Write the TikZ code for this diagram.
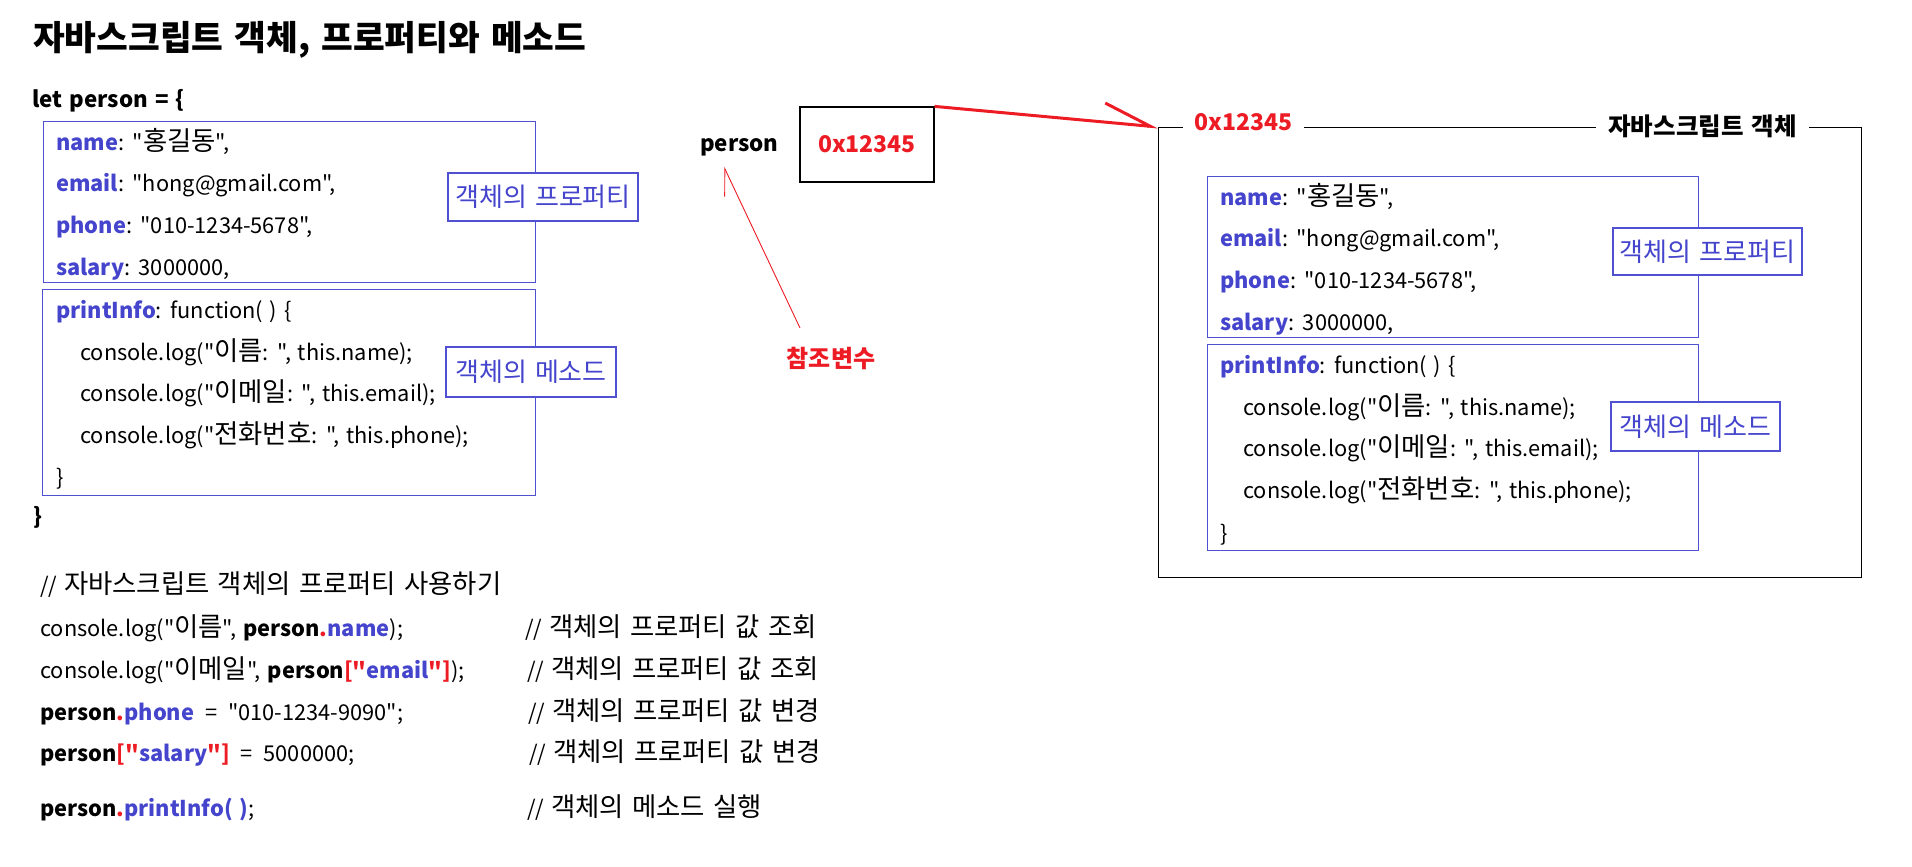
\documentclass[tikz,border=0pt]{standalone}
\usepackage{xcolor}
\usepackage{fontspec}
\setmainfont{Noto Sans CJK KR}[Ligatures=TeXOff, WordSpace=1.4]
\newfontfamily\kofont{Noto Sans CJK KR}[Scale=1.21, Ligatures=TeXOff, WordSpace=1.4]
\usepackage{tikz}
\usetikzlibrary{positioning,arrows.meta}

\definecolor{keyblue}{RGB}{68,68,204}
\definecolor{boxblue}{RGB}{80,80,210}
\definecolor{refred}{RGB}{237,28,36}

\newcommand{\ko}[1]{{\kofont #1}}
\newcommand{\pkey}[1]{\textbf{\textcolor{keyblue}{#1}}}
\newcommand{\rdot}{\textbf{\textcolor{refred}{.}}}
\newcommand{\rb}[1]{\textbf{\textcolor{refred}{#1}}}

\begin{document}
\begin{tikzpicture}[x=1pt, y=-1pt, node distance=41.7pt,
  code/.style={font=\fontsize{21.8}{28}\selectfont, inner sep=0pt, anchor=base west},
  boldcode/.style={code, font=\bfseries\fontsize{22.3}{28}\selectfont},
  nextline/.style={below=of #1, anchor=base west},
  codebox/.style={draw=boxblue, line width=1.3pt, anchor=north west, inner sep=0pt},
  tagbox/.style={draw=boxblue, line width=1.3pt, fill=white, text=keyblue, font=\fontsize{26}{30}\selectfont, inner sep=0pt},
  addr/.style={text=refred, font=\bfseries\fontsize{23}{28}\selectfont, inner sep=0pt}]

\useasboundingbox (0,0) rectangle (1912,867);

% title
\node (title) [code, font=\bfseries\fontsize{34.5}{42}\selectfont] at (33,51) {자바스크립트 객체, 프로퍼티와 메소드};

% object literal, left
\node (letL) [boldcode] at (32,107) {let person = \{};
\node (propL) [codebox, minimum width=492pt, minimum height=161pt] at (43,121) {};
\node (nameL) [code] at (56,150) {\pkey{name}: "\ko{홍길동}",};
\node (emailL) [code, nextline=nameL.base west] {\pkey{email}: "hong@gmail.com",};
\node (phoneL) [code, nextline=emailL.base west] {\pkey{phone}: "010-1234-5678",};
\node (salaryL) [code, nextline=phoneL.base west] {\pkey{salary}: 3000000,};
\node (propTagL) [tagbox, minimum width=190pt, minimum height=48pt] at (543,197) {객체의 프로퍼티};

\node (methL) [codebox, minimum width=493pt, minimum height=206pt] at (42,289) {};
\node (fnL) [code] at (56,318) {\pkey{printInfo}: function( ) \{};
\node (log1L) [code] at (80,360) {console.log("\ko{이름}: ", this.name);};
\node (log2L) [code, nextline=log1L.base west] {console.log("\ko{이메일}: ", this.email);};
\node (log3L) [code, nextline=log2L.base west] {console.log("\ko{전화번호}: ", this.phone);};
\node (fnEndL) [code] at (56,485) {\}};
\node (methTagL) [tagbox, minimum width=170pt, minimum height=50pt] at (531,372) {객체의 메소드};
\node (endL) [boldcode] at (33,524) {\}};

% reference variable
\node (person) [boldcode] at (700,151) {person};
\node (addrBox) [addr, draw=black, line width=1.2pt, minimum width=134pt, minimum height=75pt] at (867,144.5) {0x12345};
\node (refVar) [addr, font=\bfseries\fontsize{24}{28}\selectfont] at (831,358) {참조변수};
\coordinate (refFrom) at (800,328);
\coordinate (refTo) at (724,167);

% heap object, right
\node (heapBox) [draw, line width=1.2pt, minimum width=703pt, minimum height=450pt, anchor=north west, inner sep=0pt] at (1158,127) {};
\node (heapAddr) [addr, fill=white, inner xsep=12pt, inner ysep=3pt] at (1243.5,122.5) {0x12345};
\node (heapName) [addr, text=black, fill=white, inner xsep=12pt, inner ysep=3pt, font=\bfseries\fontsize{24.5}{28}\selectfont] at (1702.5,126) {자바스크립트 객체};

\node (propR) [codebox, minimum width=491pt, minimum height=161pt] at (1207,176) {};
\node (nameR) [code] at (1220,205) {\pkey{name}: "\ko{홍길동}",};
\node (emailR) [code, nextline=nameR.base west] {\pkey{email}: "hong@gmail.com",};
\node (phoneR) [code, nextline=emailR.base west] {\pkey{phone}: "010-1234-5678",};
\node (salaryR) [code, nextline=phoneR.base west] {\pkey{salary}: 3000000,};
\node (propTagR) [tagbox, minimum width=189pt, minimum height=47pt] at (1707.5,251.5) {객체의 프로퍼티};

\node (methR) [codebox, minimum width=491pt, minimum height=206pt] at (1207,344) {};
\node (fnR) [code] at (1220,373) {\pkey{printInfo}: function( ) \{};
\node (log1R) [code] at (1243,415) {console.log("\ko{이름}: ", this.name);};
\node (log2R) [code, nextline=log1R.base west] {console.log("\ko{이메일}: ", this.email);};
\node (log3R) [code, nextline=log2R.base west] {console.log("\ko{전화번호}: ", this.phone);};
\node (fnEndR) [code] at (1220,541) {\}};
\node (methTagR) [tagbox, minimum width=169pt, minimum height=49pt] at (1695.5,426.5) {객체의 메소드};

% connectors
\draw[refred, line width=0.9pt, -{Straight Barb[harpoon, length=25pt, width=24pt]}] (refFrom) -- (refTo);
\draw[refred, line width=3pt, -{Straight Barb[harpoon, length=47pt, width=38pt]}] (addrBox.north east) -- (heapBox.north west);

% using the object
\node (useHead) [code] at (40,593) {// \ko{자바스크립트 객체의 프로퍼티 사용하기}};
\node (use1) [code] at (40,636) {console.log("\ko{이름}", \textbf{person}\rdot\pkey{name});};
\node (use2) [code] at (40,678) {console.log("\ko{이메일}", \textbf{person}\rb{["}\pkey{email}\rb{"]});};
\node (use3) [code] at (40,720) {\textbf{person}\rdot\pkey{phone}\enspace=\enspace"010-1234-9090";};
\node (use4) [code] at (40,761) {\textbf{person}\rb{["}\pkey{salary}\rb{"]}\enspace=\enspace5000000;};
\node (use5) [code] at (40,816) {\textbf{person}\rdot\pkey{printInfo( )};};

\node (cmt1) [code] at (525,636) {// \ko{객체의 프로퍼티 값 조회}};
\node (cmt2) [code] at (527,678) {// \ko{객체의 프로퍼티 값 조회}};
\node (cmt3) [code] at (528,720) {// \ko{객체의 프로퍼티 값 변경}};
\node (cmt4) [code] at (529,761) {// \ko{객체의 프로퍼티 값 변경}};
\node (cmt5) [code] at (527,816) {// \ko{객체의 메소드 실행}};
\end{tikzpicture}
\end{document}
